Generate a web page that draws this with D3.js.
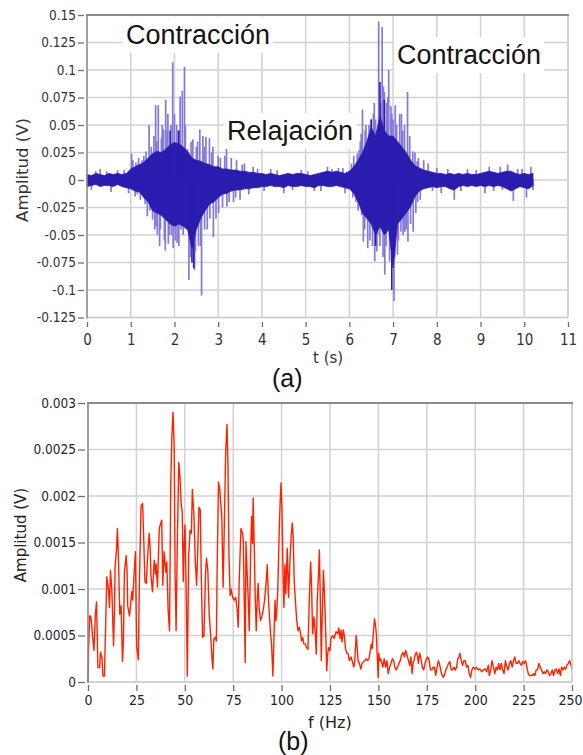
<!DOCTYPE html>
<html>
<head>
<meta charset="utf-8">
<script src="https://cdn.jsdelivr.net/npm/d3@7"></script>
<style>
html, body { margin: 0; padding: 0; background: #fff; }
svg { display: block; }
</style>
</head>
<body>
<svg id="fig" width="583" height="755"></svg>
<script>
/**
 * (a) señal EMG en el tiempo, (b) su espectro de amplitud.
 * Valores leídos a ojo de la figura original.
 */

// (a) envolvente de la banda densa: [t (s), max (V), min (V)]
var emgCore = [
    [0.0, .005, -.006], [0.1, .004, -.005], [0.2, .006, -.004], [0.3, .005, -.006], [0.4, .004, -.005],
    [0.5, .006, -.005], [0.6, .005, -.006], [0.7, .006, -.004], [0.8, .005, -.006], [0.9, .006, -.007],
    [1.0, .010, -.008], [1.1, .012, -.010], [1.2, .014, -.011], [1.3, .016, -.016], [1.4, .020, -.020],
    [1.5, .024, -.028], [1.6, .026, -.030], [1.7, .025, -.032], [1.8, .028, -.036], [1.9, .032, -.040],
    [2.0, .034, -.042], [2.1, .033, -.040], [2.2, .030, -.042], [2.3, .026, -.045], [2.4, .020, -.062],
    [2.5, .018, -.045], [2.6, .017, -.035], [2.7, .015, -.028], [2.8, .014, -.022], [2.9, .012, -.020],
    [3.0, .012, -.016], [3.1, .010, -.013], [3.2, .010, -.012], [3.3, .009, -.010], [3.4, .009, -.009],
    [3.5, .008, -.009], [3.6, .008, -.008], [3.7, .007, -.008], [3.8, .007, -.007], [3.9, .006, -.007],
    [4.0, .006, -.006], [4.1, .005, -.006], [4.2, .006, -.005], [4.3, .005, -.006], [4.4, .004, -.006],
    [4.5, .005, -.007], [4.6, .006, -.005], [4.7, .005, -.006], [4.8, .006, -.006], [4.9, .006, -.005],
    [5.0, .005, -.006], [5.1, .004, -.006], [5.2, .005, -.007], [5.3, .006, -.005], [5.4, .007, -.005],
    [5.5, .008, -.006], [5.6, .007, -.006], [5.7, .008, -.005], [5.8, .007, -.006], [5.9, .006, -.007],
    [6.0, .008, -.008], [6.1, .012, -.012], [6.2, .018, -.020], [6.3, .025, -.030], [6.4, .035, -.035],
    [6.5, .048, -.040], [6.6, .040, -.050], [6.7, .058, -.042], [6.8, .045, -.050], [6.9, .040, -.045],
    [7.0, .040, -.080], [7.1, .035, -.040], [7.2, .030, -.035], [7.3, .025, -.030], [7.4, .018, -.024],
    [7.5, .013, -.015], [7.6, .011, -.010], [7.7, .009, -.008], [7.8, .008, -.007], [7.9, .007, -.006],
    [8.0, .006, -.007], [8.1, .006, -.006], [8.2, .005, -.006], [8.3, .006, -.008], [8.4, .005, -.009],
    [8.5, .006, -.006], [8.6, .005, -.005], [8.7, .006, -.006], [8.8, .005, -.005], [8.9, .005, -.006],
    [9.0, .006, -.005], [9.1, .007, -.006], [9.2, .008, -.005], [9.3, .007, -.006], [9.4, .006, -.005],
    [9.5, .007, -.006], [9.6, .008, -.008], [9.7, .008, -.010], [9.8, .006, -.008], [9.9, .005, -.006],
    [10.0, .006, -.007], [10.1, .005, -.008], [10.2, .006, -.005]
];

// (a) picos finos (tono claro): [t (s), V]
var emgSpikes = [
    [0.1, -.009], [0.2, .008], [0.3, .010], [0.45, .008], [0.55, -.011], [0.7, .009], [0.85, .009], [0.95, -.012],
    [1.02, .024], [1.05, .018], [1.1, -.015], [1.12, .016], [1.15, -.013], [1.18, .020], [1.22, -.018],
    [1.26, .018], [1.3, .022], [1.33, -.022], [1.35, .026], [1.38, -.033], [1.42, .050], [1.44, -.028],
    [1.47, .030], [1.5, -.036], [1.53, .040], [1.55, -.045], [1.57, .068], [1.58, -.042], [1.6, .035],
    [1.61, -.050], [1.63, .068], [1.66, -.060], [1.68, -.045], [1.7, .038], [1.72, .050], [1.75, .046],
    [1.77, -.055], [1.79, -.064], [1.8, .073], [1.83, .045], [1.85, .060], [1.86, -.058], [1.88, -.050],
    [1.92, .050], [1.93, -.050], [1.96, .107], [1.97, -.062], [2.0, .060], [2.02, -.055], [2.05, .050],
    [2.06, -.057], [2.08, .045], [2.1, -.060], [2.13, .076], [2.15, -.045], [2.18, .081], [2.2, -.050],
    [2.23, .103], [2.25, .050], [2.27, -.045], [2.3, .028], [2.33, -.091], [2.36, -.070], [2.38, .035],
    [2.42, .037], [2.46, -.082], [2.48, -.065], [2.5, .030], [2.53, .035], [2.55, -.060], [2.58, .046],
    [2.6, -.060], [2.62, -.105], [2.65, .040], [2.68, .030], [2.69, -.045], [2.72, .039], [2.75, -.045],
    [2.8, .038], [2.81, -.035], [2.85, .025], [2.88, .030], [2.89, -.052], [2.95, -.035], [3.0, .022],
    [3.01, -.030], [3.05, .020], [3.1, -.025], [3.15, .022], [3.19, .029], [3.2, -.024], [3.25, -.020],
    [3.3, .020], [3.35, -.020], [3.4, -.016], [3.42, .018], [3.5, -.018], [3.55, .014], [3.6, .015],
    [3.7, -.013], [3.8, .012], [3.9, .010], [4.05, -.010],
    [4.2, .010], [4.35, .009], [4.5, -.012], [4.7, -.009], [4.9, .009], [5.05, .008], [5.2, -.010],
    [5.35, -.010], [5.5, .012], [5.6, .010], [5.75, .011], [5.85, .011], [5.9, -.012],
    [6.05, .015], [6.08, -.016], [6.1, .022], [6.15, -.020], [6.18, .024], [6.2, -.028], [6.22, .027],
    [6.25, .035], [6.27, .042], [6.28, -.032], [6.3, .064], [6.32, -.056], [6.35, -.045], [6.36, .045],
    [6.38, .050], [6.42, -.062], [6.45, .050], [6.47, -.055], [6.5, .055], [6.53, -.060], [6.55, .060],
    [6.57, .070], [6.58, -.074], [6.6, .055], [6.62, .045], [6.63, -.065], [6.65, -.050], [6.67, .144],
    [6.7, -.060], [6.72, .070], [6.75, .139], [6.77, -.070], [6.78, .085], [6.8, .080], [6.81, -.086],
    [6.84, -.060], [6.85, .070], [6.88, .075], [6.9, .100], [6.92, -.074], [6.95, .067], [6.97, .060],
    [7.0, .055], [7.02, -.110], [7.04, -.070], [7.05, .068], [7.08, .050], [7.1, -.068], [7.12, -.055],
    [7.15, .060], [7.18, -.047], [7.19, .060], [7.22, .045], [7.23, -.050], [7.26, .050], [7.27, -.047],
    [7.3, -.045], [7.33, .080], [7.34, -.056], [7.38, .040], [7.4, -.040], [7.45, .026], [7.46, -.047],
    [7.5, .025], [7.52, -.030], [7.55, .017], [7.56, -.020], [7.58, .020], [7.62, -.018], [7.7, .018],
    [7.8, .015], [7.9, -.010], [8.0, .011], [8.1, -.012], [8.25, .010], [8.4, -.018], [8.55, -.010],
    [8.7, .010], [8.9, .009], [9.1, -.012], [9.2, .012], [9.3, -.010], [9.45, .012], [9.5, -.009],
    [9.62, .014], [9.75, -.019], [9.85, .010], [9.95, .010], [10.05, -.016], [10.15, .012], [10.2, -.009]
];

// (a) picos que se ven oscuros
var emgDarkSpikes = [
    [1.9, .045], [2.1, .045], [2.4, -.075], [2.44, -.080], [6.5, .055], [6.6, -.060],
    [6.7, .089], [6.8, .073], [6.97, -.100]
];

// (b) espectro: [f (Hz), amplitud (mV)]
var spectrum = [
    [0, 0], [0.3, .35], [0.9, .71], [1.4, .71], [1.7, .66], [2.6, .44], [3.1, .34], [3.8, .73], [4.4, .86],
    [4.8, .48], [5.1, .155], [6.0, .155], [6.5, .32], [7.2, .26], [7.7, .065], [8.5, .065], [9.1, .6],
    [9.7, 1.13], [10.6, .99], [11.1, .8], [11.6, 1.2], [12.3, 1.0], [13.2, .39], [13.7, .8], [14.0, 1.24],
    [14.7, 1.42], [15.2, 1.65], [15.7, 1.35], [16.4, .73], [17.1, .82], [17.8, .22], [18.3, .44], [18.8, 1.18],
    [19.7, 1.36], [20.2, 1.18], [20.5, .82], [21.4, .71], [21.9, .8], [22.6, .97], [23.1, .88], [23.9, 1.2],
    [24.5, 1.4], [25.1, .39], [26.0, .24], [26.5, 1.04], [27.4, 1.89], [28.2, 1.92], [28.7, 1.6], [29.4, 1.08],
    [30.1, 1.06], [30.8, 1.35], [31.6, 1.6], [32.1, 1.44], [32.5, 1.15], [33.3, .97], [34.2, 1.31], [34.9, 1.16],
    [35.2, 1.27], [35.9, 1.02], [36.8, 1.65], [37.6, 1.71], [38.1, 1.74], [38.6, 1.04], [39.3, 1.4], [40.2, 1.18],
    [40.7, 1.29], [41.4, .77], [42.1, .55], [42.75, 2.12], [43.3, 2.63], [43.9, 2.9], [44.5, 2.55], [45.0, 1.15],
    [45.5, .55], [46.2, 1.58], [46.9, 2.36], [47.5, 2.21], [48.1, 1.92], [48.7, 1.82], [49.2, 1.08], [49.6, 1.45],
    [50.1, 1.69], [50.8, .88], [51.3, .065], [52.0, 1.35], [52.7, 1.63], [53.4, 1.6], [53.9, 2.07], [54.7, 1.8],
    [55.4, 1.31], [56.1, 1.04], [56.8, 1.49], [57.3, 1.88], [58.0, 1.85], [58.5, 1.15], [59.2, .48], [59.9, .5],
    [60.7, 1.17], [61.2, 1.33], [61.9, 1.2], [62.6, .73], [63.3, .52], [64.0, .26], [64.5, .14], [65.0, .46],
    [65.7, .48], [66.3, .44], [66.7, 1.2], [67.4, 2.15], [68.1, 2.07], [68.4, 1.96], [69.1, 1.78], [69.8, 1.02],
    [70.5, 1.78], [71.1, 2.47], [71.8, 2.77], [72.3, 2.32], [72.8, 1.38], [73.4, .93], [73.9, 1.0], [74.7, .91],
    [75.6, .88], [76.3, .91], [77.0, .79], [77.6, .59], [78.1, 1.08],
    [79.0, 1.65], [79.8, 1.6], [80.2, 1.53], [80.7, .88], [81.2, .21], [81.6, 1.51], [82.2, 1.17], [82.8, .88],
    [83.3, .55], [84.0, 1.38], [84.5, 1.78], [85.0, 1.49], [85.3, 1.98], [85.9, 1.42], [86.4, .88], [86.9, .55],
    [87.4, .88], [87.9, 1.06], [88.4, .8], [89.1, .66], [89.7, .7], [90.5, .77], [91.2, .88], [91.9, 1.04],
    [92.6, 1.26], [93.1, .95], [93.6, .75], [94.3, .52], [94.8, .41], [95.5, .065], [96.0, .44], [96.6, .88],
    [97.1, .66], [97.6, .8], [98.1, 1.04], [98.8, 1.65], [99.3, 1.96], [99.7, 2.14], [100.2, 1.85], [100.7, 1.22],
    [101.2, .8], [101.7, 1.26], [102.2, .95], [102.9, 1.44], [103.6, .91], [104.3, 1.31], [105.0, 1.58],
    [105.5, 1.71], [106.0, 1.56], [106.5, 1.09], [107.1, .88], [107.8, .66], [108.5, .55], [109.1, .59],
    [109.8, .52], [110.3, .44], [110.9, .48], [111.5, .41], [112.2, .41], [112.9, .37], [113.6, .35],
    [114.3, .88], [115.0, 1.29], [115.5, 1.02], [116.0, .52], [116.7, .7], [117.4, .52], [117.9, .3],
    [118.4, .88], [119.0, 1.13], [119.5, 1.42], [120.0, .88], [120.5, .23], [121.0, .73], [121.6, 1.2],
    [122.2, .91], [122.8, .52], [123.3, .12], [123.8, .3], [124.3, .37],
    [125.0, .34], [125.5, .47], [126.4, .5], [127.2, .47], [128.1, .54], [129.0, .52], [129.5, .58], [130.2, .47],
    [130.7, .56], [131.2, .43], [131.9, .56], [132.4, .5], [133.0, .36], [133.6, .31], [134.3, .31], [135.0, .23],
    [135.9, .27], [136.8, .2], [137.3, .16], [137.8, .23], [138.5, .5], [139.0, .38], [139.5, .23], [140.2, .2],
    [140.9, .14], [141.6, .2], [142.3, .22], [143.0, .23], [143.7, .25], [144.4, .23], [145.1, .25], [145.7, .32],
    [146.3, .41], [146.8, .36], [147.5, .56], [148.0, .68], [148.5, .61], [149.0, .5], [149.4, .27], [149.9, .05],
    [150.2, .31], [150.6, .23], [151.1, .25], [151.6, .22], [152.3, .16], [153.0, .25], [153.7, .16], [154.4, .23],
    [155.1, .09], [155.8, .16], [156.5, .2], [157.2, .25], [157.9, .23], [158.5, .16], [159.2, .13], [159.9, .16],
    [160.6, .2], [161.3, .23], [162.0, .29], [162.7, .32], [163.4, .27], [164.1, .34], [164.8, .29], [165.5, .23],
    [166.2, .18], [166.8, .27], [167.4, .09], [167.9, .2], [168.4, .23], [168.9, .29], [169.6, .32], [170.3, .27],
    [170.6, .2], [171.3, .31], [172.0, .25], [172.7, .16], [173.4, .13], [174.1, .2], [174.8, .25], [175.5, .27],
    [176.2, .23], [176.9, .13], [177.6, .13], [178.3, .16], [178.9, .16], [179.6, .07], [180.3, .16], [181.0, .23],
    [181.7, .18], [182.6, .09], [183.4, .05], [184.1, .07], [184.8, .13], [185.5, .16], [186.2, .2], [186.9, .22],
    [187.6, .13], [188.3, .13], [189.0, .16], [189.7, .13], [190.4, .16], [191.0, .25], [191.7, .27], [192.1, .31],
    [192.8, .23], [193.5, .18], [194.2, .23], [194.9, .23], [195.5, .16], [196.2, .18], [196.9, .09], [197.6, .05],
    [198.3, .13], [199.0, .16], [199.9, .14], [200.7, .16], [201.6, .13], [202.5, .14], [203.3, .11], [204.2, .13],
    [205.1, .14], [205.9, .11], [206.8, .18], [207.3, .07], [208.0, .13], [208.7, .23], [209.4, .16], [210.1, .09],
    [210.8, .16], [211.5, .13], [212.1, .2], [212.8, .13], [213.5, .2], [214.2, .13], [214.9, .09], [215.6, .23],
    [216.3, .16], [217.0, .13], [217.7, .2], [218.4, .23], [219.1, .16], [219.8, .23], [220.4, .27], [221.1, .2],
    [221.8, .2], [222.5, .23], [223.2, .2], [223.9, .18], [224.6, .22], [225.3, .2], [226.0, .23], [226.7, .16],
    [227.4, .09], [228.0, .07], [228.7, .07], [229.4, .07], [230.1, .09], [230.8, .07], [231.5, .13], [232.2, .13],
    [232.9, .2], [233.6, .16], [234.3, .13], [235.0, .09], [235.7, .11], [236.3, .09], [237.0, .13], [237.7, .11],
    [238.4, .07], [239.1, .09], [239.8, .13], [240.5, .07], [241.2, .13], [241.9, .14], [242.6, .09], [243.3, .14],
    [244.0, .07], [244.6, .16], [245.3, .13], [246.0, .16], [246.7, .14], [247.4, .18], [248.1, .2], [248.8, .23],
    [249.5, .18], [250.0, .14]
];

var tTicks = [0, 1, 2, 3, 4, 5, 6, 7, 8, 9, 10, 11];
var ampTicksA = [-0.125, -0.1, -0.075, -0.05, -0.025, 0, 0.025, 0.05, 0.075, 0.1, 0.125, 0.15];
var fTicks = [0, 25, 50, 75, 100, 125, 150, 175, 200, 225, 250];
var ampTicksB = [0, 0.0005, 0.001, 0.0015, 0.002, 0.0025, 0.003];
var notes = ['Contracción', 'Relajación', 'Contracción'];

(function () {
    var svg = d3.select('#fig');
    var GRID = '#d2d2d2';
    var FRAME = '#8c8c8c';
    var BLUE = '#2b1cb0';
    var TICKFONT = '"DejaVu Sans Condensed", "DejaVu Sans", sans-serif';

    function fmt(d) { return d === 0 ? '0' : String(+d.toFixed(4)); }

    function grid(g, x, y, xs, ys) {
        g.selectAll('line.gx').data(xs).join('line').attr('class', 'gx')
            .attr('x1', x).attr('x2', x)
            .attr('y1', y.range()[1]).attr('y2', y.range()[0])
            .attr('stroke', GRID).attr('stroke-width', 1.5);
        g.selectAll('line.gy').data(ys).join('line').attr('class', 'gy')
            .attr('x1', x.range()[0]).attr('x2', x.range()[1])
            .attr('y1', y).attr('y2', y)
            .attr('stroke', GRID).attr('stroke-width', 1.5);
    }

    function frame(g, x, y) {
        var x0 = x.range()[0], x1 = x.range()[1], y0 = y.range()[0], y1 = y.range()[1];
        g.append('line').attr('x1', x1).attr('x2', x1).attr('y1', y1).attr('y2', y0)
            .attr('stroke', '#cfcfcf').attr('stroke-width', 1.5);
        g.append('line').attr('x1', x0).attr('x2', x1).attr('y1', y0).attr('y2', y0)
            .attr('stroke', '#cfcfcf').attr('stroke-width', 1.5);
        g.append('line').attr('x1', x0 - 1).attr('x2', x1 + 1).attr('y1', y1).attr('y2', y1)
            .attr('stroke', FRAME).attr('stroke-width', 2);
        g.append('line').attr('x1', x0).attr('x2', x0).attr('y1', y1).attr('y2', y0 + 1)
            .attr('stroke', FRAME).attr('stroke-width', 1.5);
    }

    function styleAxis(g, size, color) {
        g.select('.domain').remove();
        g.selectAll('.tick line').attr('stroke', '#6e6e6e').attr('stroke-width', 1.3);
        g.selectAll('.tick text').attr('fill', color)
            .style('font-family', TICKFONT).style('font-size', size + 'px');
    }

    function spikes(g, x, y, data, color, width) {
        g.append('g').selectAll('line').data(data).join('line')
            .attr('x1', function (d) { return x(d[0]); })
            .attr('x2', function (d) { return x(d[0]); })
            .attr('y1', y(0))
            .attr('y2', function (d) { return y(d[1]); })
            .attr('stroke', color).attr('stroke-width', width);
    }

    // ---------- (a) ----------
    var xA = d3.scaleLinear().domain([0, 11]).range([87, 568]);
    var yA = d3.scaleLinear().domain([-0.125, 0.15]).range([317.5, 15]);
    var gA = svg.append('g');

    grid(gA, xA, yA, tTicks, ampTicksA);

    spikes(gA, xA, yA, emgSpikes, '#8479da', 1.7);

    gA.append('path').datum(emgCore)
        .attr('d', d3.area()
            .x(function (d) { return xA(d[0]); })
            .y0(function (d) { return yA(d[2]); })
            .y1(function (d) { return yA(d[1]); }))
        .attr('fill', BLUE).attr('stroke', BLUE).attr('stroke-width', 0.8);

    spikes(gA, xA, yA, emgDarkSpikes, BLUE, 1.6);

    // etiquetas con fondo blanco
    var notePos = [[0.89, 0.124], [3.2, 0.0364], [7.09, 0.1055]];
    var gN = gA.append('g');
    notes.forEach(function (txt, i) {
        var box = gN.append('rect').attr('fill', '#fff');
        var t = gN.append('text')
            .attr('x', xA(notePos[i][0])).attr('y', yA(notePos[i][1]))
            .attr('fill', '#151515')
            .style('font-family', '"Liberation Sans", Arial, sans-serif')
            .style('font-size', '27px')
            .text(txt);
        var bb = t.node().getBBox();
        box.attr('x', bb.x - 3).attr('y', bb.y - 3)
            .attr('width', bb.width + 6).attr('height', bb.height + 6);
    });

    frame(gA, xA, yA);

    var axLA = gA.append('g').attr('transform', 'translate(84,0)')
        .call(d3.axisLeft(yA).tickValues(ampTicksA).tickSize(6).tickPadding(2).tickFormat(fmt));
    styleAxis(axLA, 13.5, '#333');
    var axBA = gA.append('g').attr('transform', 'translate(0,322)')
        .call(d3.axisBottom(xA).tickValues(tTicks).tickSize(5).tickPadding(7).tickFormat(d3.format('d')));
    styleAxis(axBA, 15, '#333');

    gA.append('text')
        .attr('transform', 'translate(28,170) rotate(-90)')
        .attr('text-anchor', 'middle')
        .attr('fill', '#333')
        .style('font-family', '"DejaVu Sans", sans-serif').style('font-size', '16.5px')
        .text('Amplitud (V)');
    gA.append('text').attr('x', 313).attr('y', 363)
        .attr('fill', '#333')
        .style('font-family', '"DejaVu Sans", sans-serif').style('font-size', '15px')
        .text('t (s)');
    svg.append('text').attr('x', 272).attr('y', 387)
        .attr('fill', '#111')
        .style('font-family', '"Liberation Sans", Arial, sans-serif').style('font-size', '25px')
        .text('(a)');

    // ---------- (b) ----------
    var xB = d3.scaleLinear().domain([0, 250]).range([88, 572]);
    var yB = d3.scaleLinear().domain([0, 0.003]).range([682, 403]);
    var gB = svg.append('g');

    grid(gB, xB, yB, fTicks, ampTicksB);

    gB.append('path').datum(spectrum)
        .attr('d', d3.line()
            .x(function (d) { return xB(d[0]); })
            .y(function (d) { return yB(d[1] / 1000); }))
        .attr('fill', 'none').attr('stroke', '#ff2200').attr('stroke-width', 1.4)
        .attr('stroke-linejoin', 'round');

    frame(gB, xB, yB);

    var axLB = gB.append('g').attr('transform', 'translate(85,0)')
        .call(d3.axisLeft(yB).tickValues(ampTicksB).tickSize(7).tickPadding(2).tickFormat(fmt));
    styleAxis(axLB, 13.5, '#1e1e30');
    var axBB = gB.append('g').attr('transform', 'translate(0,685)')
        .call(d3.axisBottom(xB).tickValues(fTicks).tickSize(6).tickPadding(4).tickFormat(d3.format('d')));
    styleAxis(axBB, 14, '#1e1e30');
    // el último rótulo queda pegado al borde de la imagen
    axBB.selectAll('.tick text').filter(function (d) { return d === 250; })
        .attr('text-anchor', 'end').attr('x', 10);

    gB.append('text')
        .attr('transform', 'translate(26,535) rotate(-90)')
        .attr('text-anchor', 'middle')
        .attr('fill', '#222')
        .style('font-family', '"DejaVu Sans", sans-serif').style('font-size', '15px')
        .text('Amplitud (V)');
    gB.append('text').attr('x', 308).attr('y', 728)
        .attr('fill', '#222')
        .style('font-family', '"DejaVu Sans", sans-serif').style('font-size', '16px')
        .text('f (Hz)');
    svg.append('text').attr('x', 278).attr('y', 750)
        .attr('fill', '#111')
        .style('font-family', '"Liberation Sans", Arial, sans-serif').style('font-size', '25px')
        .text('(b)');
})();
</script>
</body>
</html>
